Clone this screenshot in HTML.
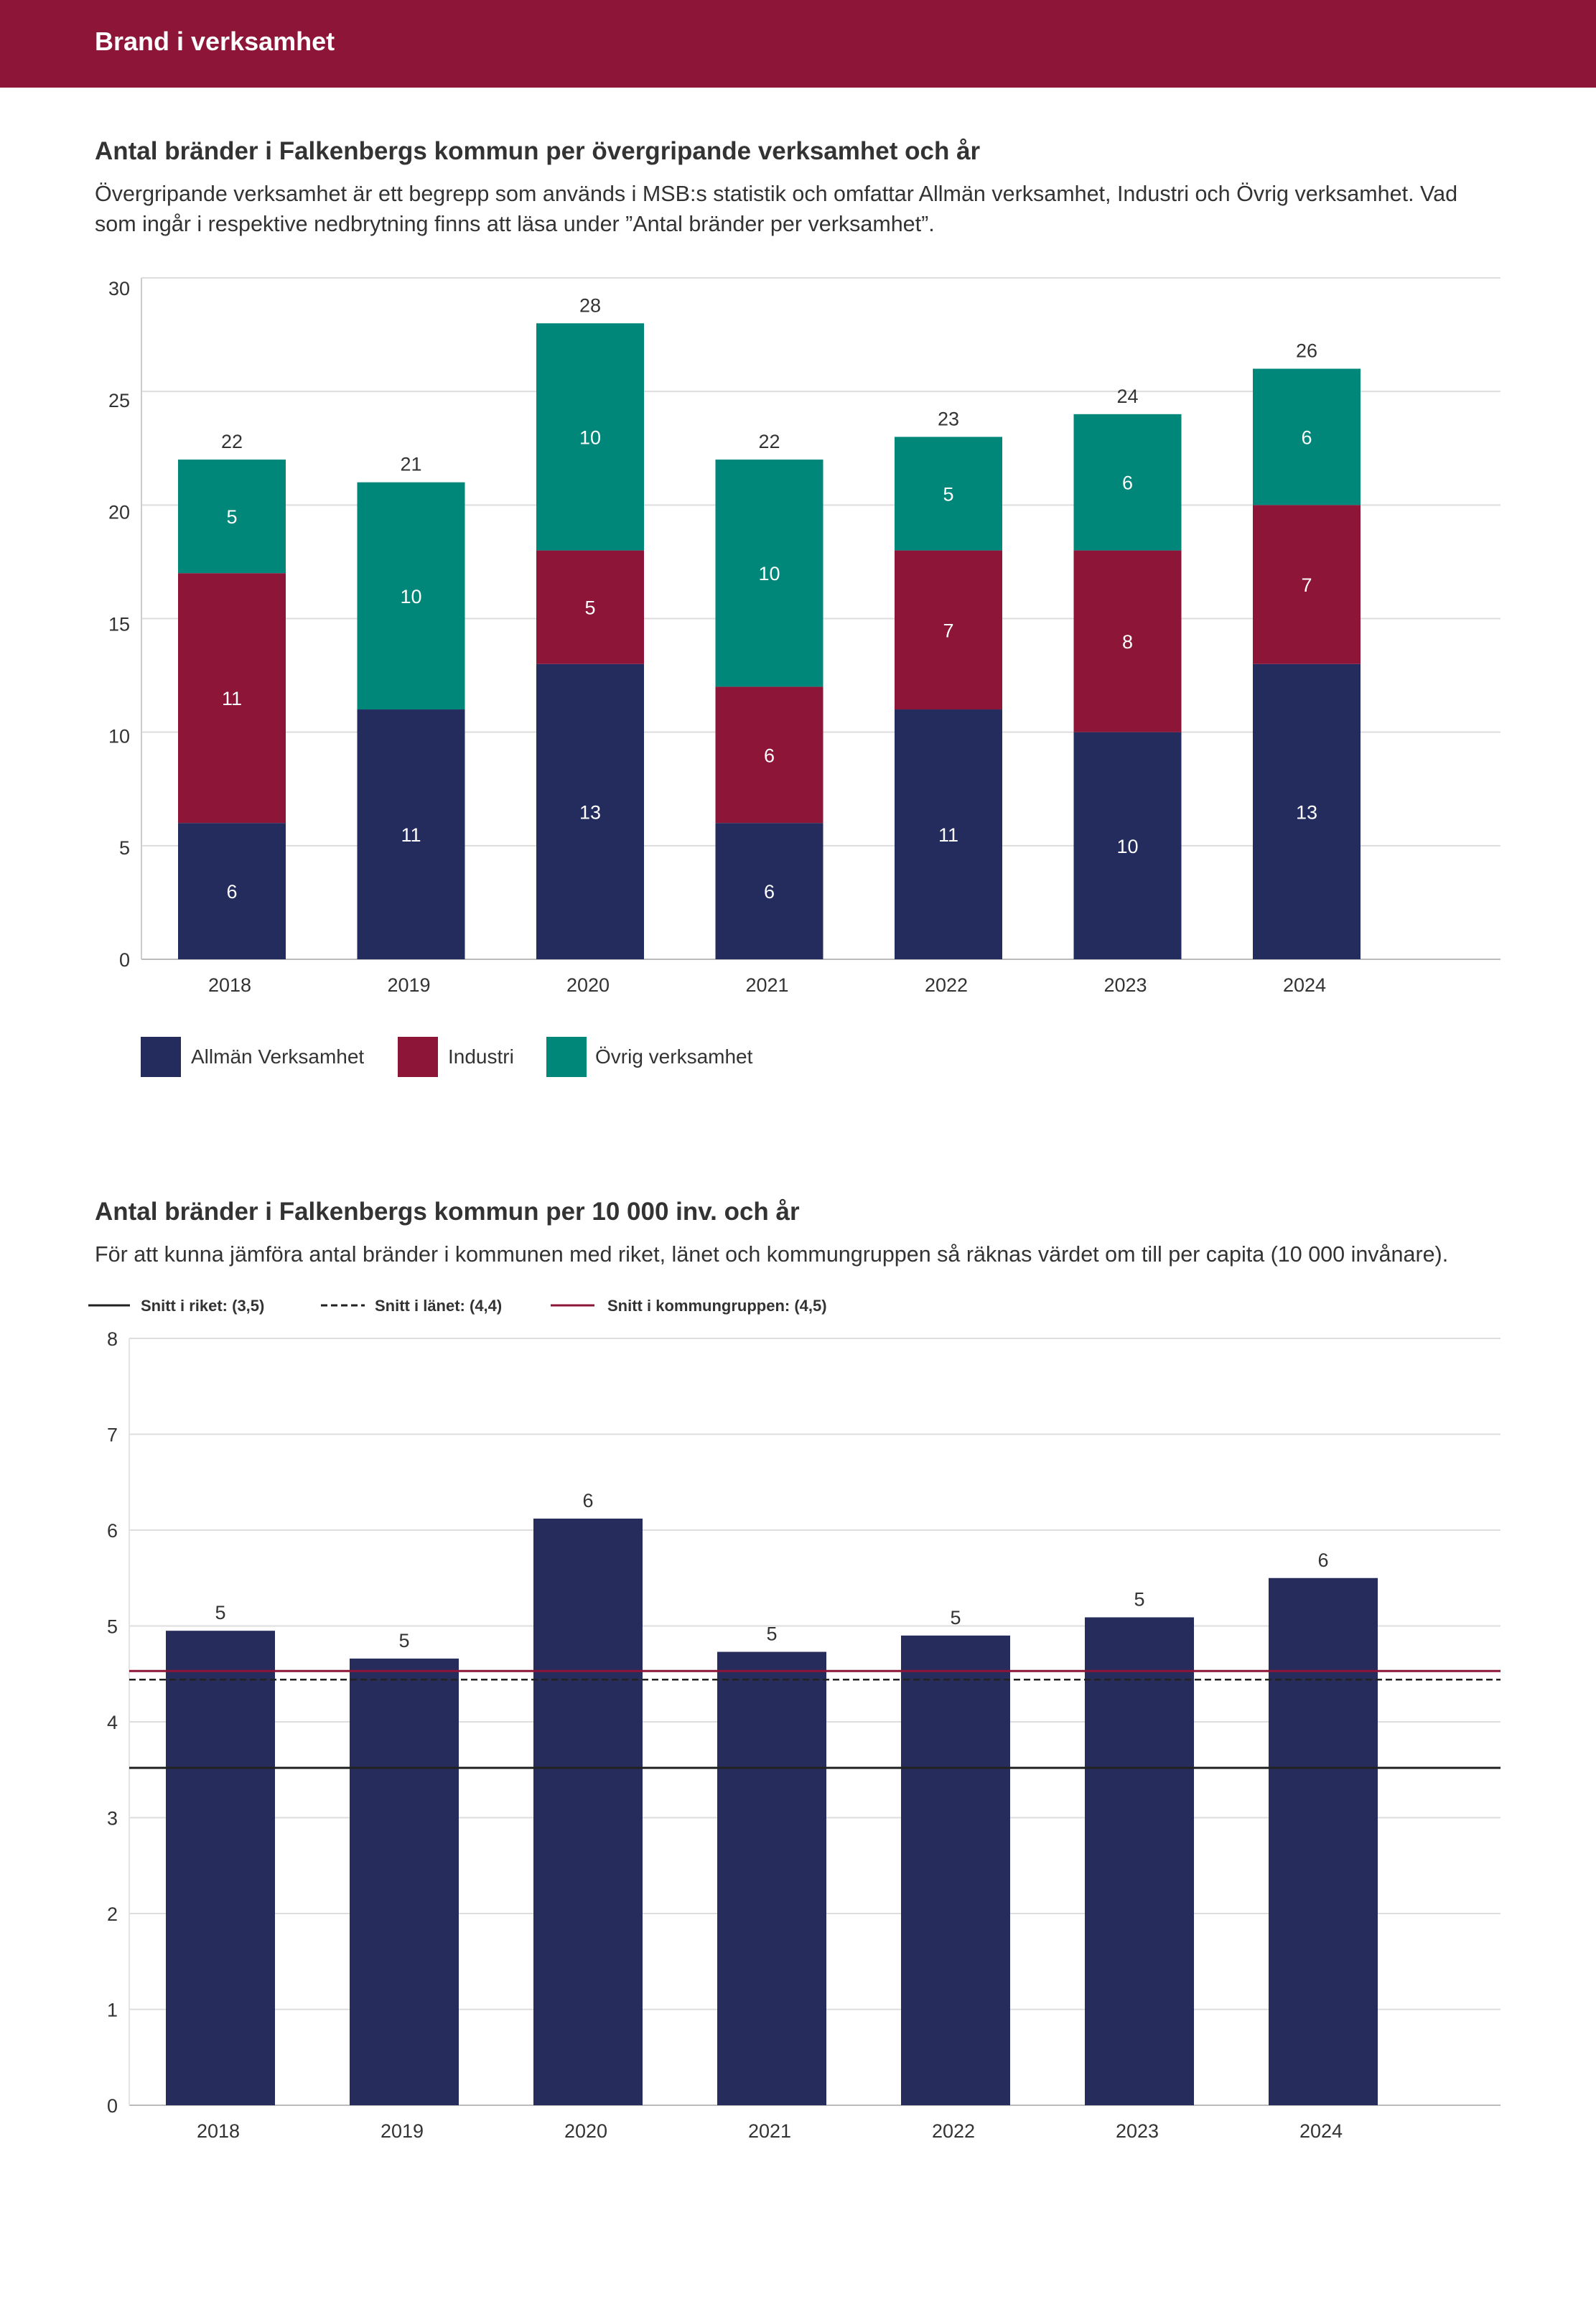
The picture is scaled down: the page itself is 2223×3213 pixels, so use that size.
<!DOCTYPE html>
<html><head><meta charset="utf-8"><style>
html,body{margin:0;padding:0;background:#fff}
svg{display:block}
text{font-family:"Liberation Sans",sans-serif}
</style></head><body>
<svg id="page" xmlns="http://www.w3.org/2000/svg" width="2223" height="3213" viewBox="0 0 2223 3213">
<rect x="0" y="0" width="2223" height="122" fill="#8C1538"/>
<text x="132" y="70" font-size="36" font-weight="bold" fill="#fff">Brand i verksamhet</text>
<text x="132" y="222" font-size="35" font-weight="bold" fill="#333">Antal bränder i Falkenbergs kommun per övergripande verksamhet och år</text>
<text x="132" y="280" font-size="30.5" fill="#333">Övergripande verksamhet är ett begrepp som används i MSB:s statistik och omfattar Allmän verksamhet, Industri och Övrig verksamhet. Vad</text>
<text x="132" y="322" font-size="30.5" fill="#333">som ingår i respektive nedbrytning finns att läsa under ”Antal bränder per verksamhet”.</text>
<g id="c1"></g>
<g>
<rect x="196" y="1444" width="56" height="56" fill="#232C5C"/>
<text x="266" y="1481" font-size="28" fill="#333">Allmän Verksamhet</text>
<rect x="554" y="1444" width="56" height="56" fill="#8C1538"/>
<text x="624" y="1481" font-size="28" fill="#333">Industri</text>
<rect x="761" y="1444" width="56" height="56" fill="#00877A"/>
<text x="829" y="1481" font-size="28" fill="#333">Övrig verksamhet</text>
</g>
<text x="132" y="1699" font-size="35" font-weight="bold" fill="#333">Antal bränder i Falkenbergs kommun per 10 000 inv. och år</text>
<text x="132" y="1757" font-size="30.5" fill="#333">För att kunna jämföra antal bränder i kommunen med riket, länet och kommungruppen så räknas värdet om till per capita (10 000 invånare).</text>
<g>
<line x1="123" y1="1818" x2="181" y2="1818" stroke="#222" stroke-width="3"/>
<text x="196" y="1826" font-size="22" font-weight="bold" fill="#333">Snitt i riket: (3,5)</text>
<line x1="447" y1="1818" x2="508" y2="1818" stroke="#222" stroke-width="3" stroke-dasharray="9,5"/>
<text x="522" y="1826" font-size="22" font-weight="bold" fill="#333">Snitt i länet: (4,4)</text>
<line x1="767" y1="1818" x2="828" y2="1818" stroke="#8C1538" stroke-width="3"/>
<text x="846" y="1826" font-size="22" font-weight="bold" fill="#333">Snitt i kommungruppen: (4,5)</text>
</g>
<g id="c2"></g>
</svg>
<script>
const years = ["2018","2019","2020","2021","2022","2023","2024"];
const allman = [6,11,13,6,11,10,13];
const industri = [11,0,5,6,7,8,7];
const ovrig = [5,10,10,10,5,6,6];
const ticks1 = [0,5,10,15,20,25,30];
const perCapita = [4.95,4.66,6.12,4.73,4.9,5.09,5.5];
const perCapitaLabels = ["5","5","6","5","5","5","6"];
const ticks2 = [0,1,2,3,4,5,6,7,8];
const refRiket = [3.52];
const refLanet = [4.44];
const refKommungrupp = [4.53];

const NS="http://www.w3.org/2000/svg";
function mk(parent,tag,attrs,txt){const e=document.createElementNS(NS,tag);for(const k in attrs)e.setAttribute(k,attrs[k]);if(txt!==undefined)e.textContent=txt;parent.appendChild(e);return e;}

// Chart 1
(function(){
const g=document.getElementById('c1');
const left=197,right=2090,top=387,bottom=1336,max=30;
const y=v=>bottom-(v/max)*(bottom-top);
const pitch=249.5,bw=150,x0=248;
const x=i=>x0+i*pitch;
ticks1.forEach(t=>{
 const gl=mk(g,'line',{x1:left,x2:right,y1:y(t),y2:y(t),stroke:t===0?'#bbb':'#ddd','stroke-width':2});
 
 
 const tl=mk(g,'text',{x:left-16,y:y(t)+10+(t/max)*14,'font-size':27,fill:'#333','text-anchor':'end'},String(t));
 
 
});
const ax=mk(g,'line',{x1:left,x2:left,y1:top,y2:bottom,stroke:'#ccc','stroke-width':2});


const series=[[allman,'#232C5C','allman'],[industri,'#8C1538','industri'],[ovrig,'#00877A','ovrig']];
years.forEach((yr,i)=>{
 let base=0;
 series.forEach(([arr,col,nm])=>{
  const v=arr[i]; if(!v) return;
  const r=mk(g,'rect',{x:x(i),y:y(base+v),width:bw,height:y(base)-y(base+v),fill:col});
  
  
  const t=mk(g,'text',{x:x(i)+bw/2,y:(y(base)+y(base+v))/2+10,'font-size':27,fill:'#fff','text-anchor':'middle'},String(v));
  
  
  base+=v;
 });
 const tt=mk(g,'text',{x:x(i)+bw/2,y:y(base)-16,'font-size':27,fill:'#333','text-anchor':'middle'},String(base));
 
 
 const xl=mk(g,'text',{x:x(i)+bw/2-3,y:1381,'font-size':27,fill:'#333','text-anchor':'middle'},yr);
 
 
});
})();

// Chart 2
(function(){
const g=document.getElementById('c2');
const left=180,right=2090,top=1864,bottom=2932,max=8;
const y=v=>bottom-(v/max)*(bottom-top);
const pitch=256,bw=152,x0=231;
const x=i=>x0+i*pitch;
ticks2.forEach(t=>{
 const gl=mk(g,'line',{x1:left,x2:right,y1:y(t),y2:y(t),stroke:t===0?'#bbb':'#ddd','stroke-width':2});
 
 
 const tl=mk(g,'text',{x:left-16,y:y(t)+10,'font-size':27,fill:'#333','text-anchor':'end'},String(t));
 
 
});
const ax=mk(g,'line',{x1:left,x2:left,y1:top,y2:bottom,stroke:'#e4e4e4','stroke-width':2});


years.forEach((yr,i)=>{
 const v=perCapita[i];
 const r=mk(g,'rect',{x:x(i),y:y(v),width:bw,height:bottom-y(v),fill:'#262C5C'});
 
 
 const t=mk(g,'text',{x:x(i)+bw/2,y:y(v)-16,'font-size':27,fill:'#333','text-anchor':'middle'},perCapitaLabels[i]);
 
 
 const xl=mk(g,'text',{x:x(i)+bw/2-3,y:2977,'font-size':27,fill:'#333','text-anchor':'middle'},yr);
 
 
});
const l1=mk(g,'line',{x1:left,x2:right,y1:y(refRiket[0]),y2:y(refRiket[0]),stroke:'#222','stroke-width':3});


const l2=mk(g,'line',{x1:left,x2:right,y1:y(refLanet[0]),y2:y(refLanet[0]),stroke:'#222','stroke-width':2.5,'stroke-dasharray':'9,5'});


const l3=mk(g,'line',{x1:left,x2:right,y1:y(refKommungrupp[0]),y2:y(refKommungrupp[0]),stroke:'#8C1538','stroke-width':3});


})();
</script>
</body></html>
